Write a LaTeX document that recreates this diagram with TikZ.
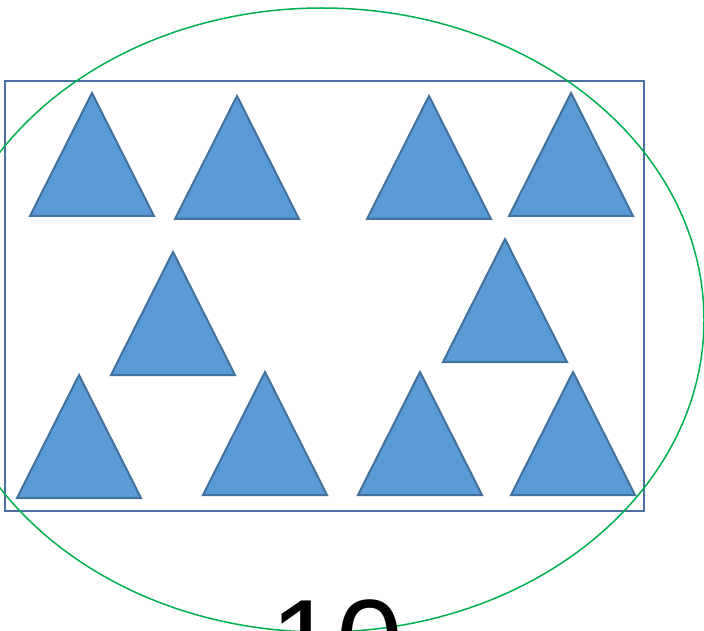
\documentclass[tikz,border=0pt]{standalone}
\usepackage{fontspec}
\setmainfont{Liberation Sans}
\definecolor{trifill}{HTML}{5B9BD5}
\definecolor{tristroke}{HTML}{41719C}
\definecolor{boxstroke}{HTML}{4A6FA0}
\definecolor{ellgreen}{HTML}{00B050}
\begin{document}
\begin{tikzpicture}[x=1pt,y=-1pt,
  tri/.style={fill=trifill,draw=tristroke,line width=2pt,line join=miter},
  frame/.style={draw=boxstroke,line width=2pt},
  ring/.style={draw=ellgreen,line width=1.5pt}]
\useasboundingbox (0,0) rectangle (704,631);
\clip (0,0) rectangle (704,631);
\draw[frame] (5,81) rectangle (644,511);
\foreach \ax/\ay in {92/93, 237/96, 429/96, 571/93, 173/252, 505/239, 79/375, 265/372, 420/372, 573/372}{
  \draw[tri] (\ax,\ay) -- ++(62,123) -- ++(-124,0) -- cycle;
}
\draw[ring] (322,320) ellipse [x radius=382, y radius=312];
\node[anchor=base west,inner sep=0pt,font=\fontsize{120}{120}\selectfont] (num) at (270,683) {10};
\end{tikzpicture}
\end{document}
